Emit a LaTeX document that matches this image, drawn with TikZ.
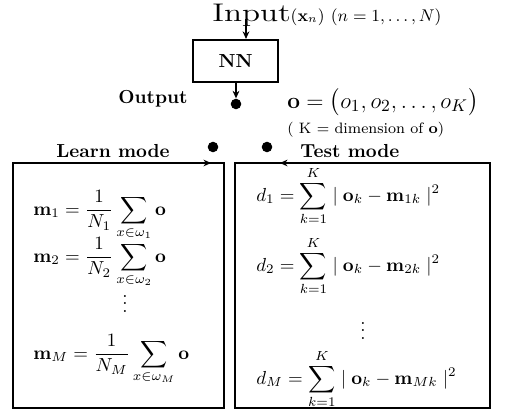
\documentclass[tikz,border=0pt]{standalone}
\usepackage{amsmath}
\usepackage{graphicx}
\usetikzlibrary{arrows.meta,calc}
\begin{document}
\begin{tikzpicture}[x=0.53pt,y=-0.53pt,
  box/.style={draw,line width=1.1pt,inner sep=0pt},
  dot/.style={circle,fill,inner sep=0pt,minimum size=5.6pt},
  arr/.style={line width=0.9pt,-{Stealth[length=4pt,width=3.6pt]}},
  tip/.style={line width=0.6pt,-{Stealth[length=4pt,width=3.6pt]}},
  lbl/.style={inner sep=0pt}]
\useasboundingbox (0,0) rectangle (531,414);
% input
\node[lbl,anchor=base west] (inp) at (212,21)
  {\scalebox{1.3}[1]{\fontsize{13.5}{16}\selectfont Input}{\small$(\mathbf{x}_n)$}\ {\small$(n=1,\ldots,N)$}};
\node[box,minimum width=45pt,minimum height=22.3pt] (nn) at (235.5,61) {\textbf{NN}};
\coordinate (inarr) at (246,19);
\draw[arr] (inarr) -- (inarr |- nn.north);
\node[dot] (od) at (236,104) {};
\draw[arr] (nn.south -| od) -- (od.north);
\node[lbl,anchor=base east] (outl) at (188,103) {\textbf{Output}};
\node[lbl,anchor=base west] (ovec) at (287,108) {\fontsize{12.8}{15}\selectfont$\mathbf{o} = \bigl(o_1, o_2, \ldots, o_K\bigr)$};
\node[lbl,anchor=base west] (kdim) at (287,134) {\footnotesize( K $=$ dimension of $\mathbf{o}$)};
% switch dots
\node[dot] (ld) at (213,147) {};
\node[dot] (rd) at (267,147) {};
\node[lbl,anchor=base] (learn) at (113,157) {\textbf{Learn mode}};
\node[lbl,anchor=base west] (test) at (300,157) {\textbf{Test mode}};
% boxes
\node[box,minimum width=111.83pt,minimum height=129.85pt] (lbox) at (118.5,285.5) {};
\node[box,minimum width=135.15pt,minimum height=129.85pt] (rbox) at (362.5,285.5) {};
\coordinate (la) at (199,163);
\coordinate (lb) at (211,163);
\draw[tip] (la) -- (lb);
\coordinate (ra) at (293,163);
\coordinate (rb) at (280,163);
\draw[tip] (ra) -- (rb);
% learn formulas
\node[lbl,anchor=base west] (m1) at (33,215)
  {$\displaystyle \mathbf{m}_1 = \frac{1}{N_1}\sum_{x\in\omega_1}\mathbf{o}$};
\node[lbl,anchor=base west] (m2) at (33,262)
  {$\displaystyle \mathbf{m}_2 = \frac{1}{N_2}\sum_{x\in\omega_2}\mathbf{o}$};
\node[lbl] (lv) at (125,298) {$\vdots$};
\node[lbl,anchor=base west] (mM) at (33,359)
  {$\displaystyle \mathbf{m}_M = \frac{1}{N_M}\sum_{x\in\omega_M}\mathbf{o}$};
% test formulas
\node[lbl,anchor=base west] (d1) at (256,201)
  {$\displaystyle d_1 = \sum_{k=1}^{K}\mid \mathbf{o}_k - \mathbf{m}_{1k}\mid^2$};
\node[lbl,anchor=base west] (d2) at (256,271)
  {$\displaystyle d_2 = \sum_{k=1}^{K}\mid \mathbf{o}_k - \mathbf{m}_{2k}\mid^2$};
\node[lbl] (rv) at (363,325) {$\vdots$};
\node[lbl,anchor=base west] (dM) at (256,384)
  {$\displaystyle d_M = \sum_{k=1}^{K}\mid \mathbf{o}_k - \mathbf{m}_{Mk}\mid^2$};
\end{tikzpicture}
\end{document}
